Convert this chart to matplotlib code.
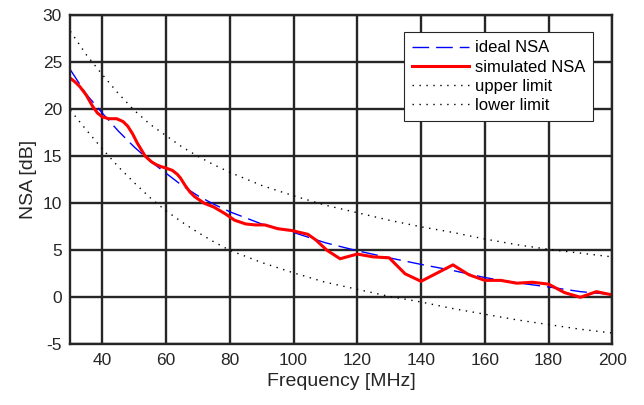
import matplotlib
matplotlib.use('Agg')
import matplotlib.pyplot as plt

plt.rcParams['font.family'] = ['Liberation Sans', 'DejaVu Sans']
plt.rcParams['axes.unicode_minus'] = False

# limits / ideal curve
freq_lim = [30, 35, 40, 45, 50, 55, 60, 65, 70, 75, 80, 90, 100, 110, 120,
            130, 140, 150, 160, 170, 180, 190, 200]
ideal = [24.2, 21.6, 19.6, 17.7, 16.0, 14.5, 13.2, 11.9, 10.8, 9.9, 9.1, 7.8,
         6.9, 5.8, 4.95, 4.2, 3.5, 2.85, 2.1, 1.55, 1.1, 0.6, 0.3]
upper = [28.3, 25.8, 23.7, 21.7, 19.9, 18.4, 17.2, 16.0, 15.0, 14.1, 13.3, 11.9,
         10.8, 9.8, 9.0, 8.2, 7.5, 6.9, 6.2, 5.6, 5.1, 4.7, 4.3]
lower = [19.9, 17.8, 15.8, 13.9, 12.2, 10.6, 9.2, 8.0, 6.9, 5.9, 5.0, 3.7,
         2.6, 1.6, 0.85, 0.1, -0.5, -1.2, -1.8, -2.4, -2.9, -3.4, -3.8]

# simulated NSA
freq_sim = [30, 31.5, 33, 35, 37, 38.5, 40, 42, 44.5, 46.5, 48, 49.5, 51, 53.5,
            55.5, 57, 58.5, 60, 62, 63.5, 64.5, 66, 67.5, 69, 72, 75, 78.5,
            81.5, 85, 88, 91, 95, 99.5, 104.5, 107, 110.5, 114.6, 120, 125,
            130, 135, 140, 150, 155, 160, 165, 170, 175, 180, 185, 190, 195,
            200]
sim = [23.3, 22.9, 22.4, 21.5, 20.3, 19.6, 19.2, 19.0, 19.0, 18.7, 18.2,
       17.4, 16.4, 15.0, 14.4, 14.1, 13.9, 13.75, 13.5, 13.1, 12.7, 11.9, 11.2,
       10.7, 10.0, 9.6, 8.9, 8.2, 7.8, 7.7, 7.7, 7.3, 7.1, 6.7, 6.1, 5.0, 4.1,
       4.6, 4.3, 4.2, 2.5, 1.7, 3.45, 2.4, 1.8, 1.8, 1.5, 1.6, 1.4, 0.5, 0.0,
       0.6, 0.25]

xticks = [40, 60, 80, 100, 120, 140, 160, 180, 200]
yticks = [-5, 0, 5, 10, 15, 20, 25, 30]

dark = '#262626'

fig = plt.figure(figsize=(6.44, 4.05), dpi=100)
ax = fig.add_axes([0.1093, 0.1499, 0.8415, 0.8123])

ax.plot(freq_lim, ideal, color='#0000ff', lw=1.0, dashes=(12, 5), label='ideal NSA')
ax.plot(freq_sim, sim, color='#ff0000', lw=2.2, label='simulated NSA')
ax.plot(freq_lim, upper, color='black', lw=1.0, dashes=(1, 4), label='upper limit')
ax.plot(freq_lim, lower, color='black', lw=1.0, dashes=(1, 4), label='lower limit')

ax.set_xlim(30, 200)
ax.set_ylim(-5, 30)
ax.set_xticks(xticks)
ax.set_yticks(yticks)
ax.grid(True, color=dark, lw=1.7, alpha=1)
ax.set_axisbelow(True)
for s in ax.spines.values():
    s.set_color(dark)
    s.set_linewidth(1.7)
ax.tick_params(length=0, labelsize=12.5, colors=dark, pad=6)

ax.set_xlabel('Frequency [MHz]', fontsize=14, color=dark)
ax.set_ylabel('NSA [dB]', fontsize=14, color=dark)

leg = ax.legend(loc='upper right', bbox_to_anchor=(0.965, 0.949), borderaxespad=0,
                fontsize=12, fancybox=False, framealpha=1, edgecolor=dark,
                handlelength=3.4, handletextpad=0.35, labelspacing=0.25,
                borderpad=0.5)
leg.get_frame().set_linewidth(0.8)

fig.savefig('out.png', dpi=100)
